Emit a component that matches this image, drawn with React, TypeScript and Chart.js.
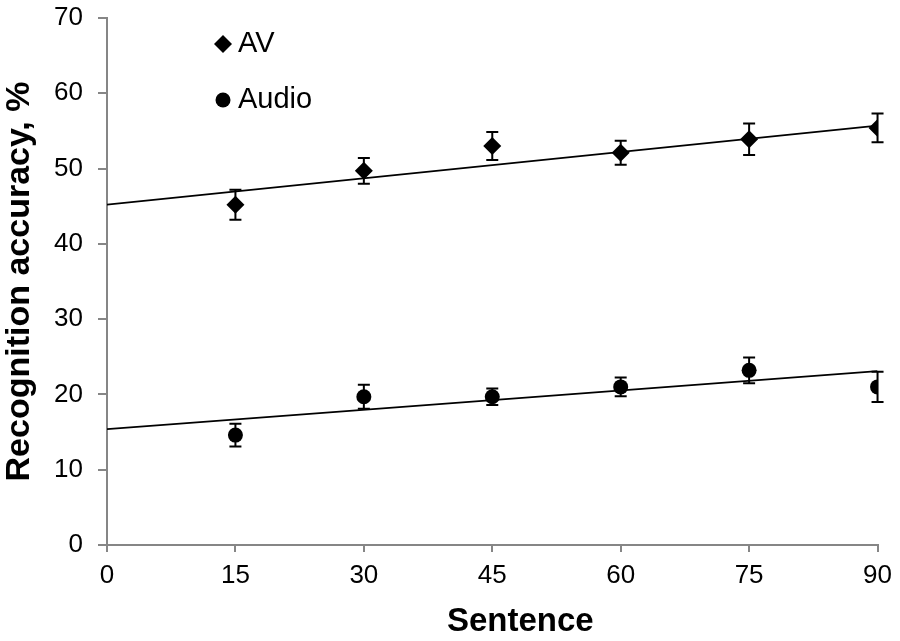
import { useEffect, useRef } from "react";
import { Chart, registerables } from "chart.js";

Chart.register(...registerables);

// sentence position (x) of each measured point
const sentences = [15, 30, 45, 60, 75, 90];

// recognition accuracy, %
const avValues = [45.2, 49.7, 53.0, 52.1, 53.9, 55.4];
const avErrors = [2.0, 1.7, 1.85, 1.6, 2.1, 1.9];
const audioValues = [14.6, 19.7, 19.7, 21.0, 23.2, 21.0];
const audioErrors = [1.5, 1.6, 1.1, 1.25, 1.7, 2.0];

// linear trend lines, read at x = 0 and x = 90
const trendX = [0, 90];
const avTrend = [45.2, 55.7];
const audioTrend = [15.4, 23.1];

const xTicks = [0, 15, 30, 45, 60, 75, 90];

const AXIS_GREY = "#868686";
const FONT = "'Liberation Sans', Arial, sans-serif";

const errorBarPlugin = {
  id: "errorBars",
  beforeDatasetsDraw(chart: any) {
    const { ctx } = chart;
    const x = chart.scales.x;
    const y = chart.scales.y;
    const sets = [
      { values: avValues, errors: avErrors },
      { values: audioValues, errors: audioErrors },
    ];
    ctx.save();
    ctx.strokeStyle = "#000";
    ctx.lineWidth = 2;
    sets.forEach(({ values, errors }) => {
      values.forEach((v, i) => {
        const px = x.getPixelForValue(sentences[i]);
        const top = y.getPixelForValue(v + errors[i]);
        const bot = y.getPixelForValue(v - errors[i]);
        ctx.beginPath();
        ctx.moveTo(px, top);
        ctx.lineTo(px, bot);
        ctx.moveTo(px - 6, top);
        ctx.lineTo(px + 6, top);
        ctx.moveTo(px - 6, bot);
        ctx.lineTo(px + 6, bot);
        ctx.stroke();
      });
    });
    ctx.restore();
  },
};

// legend inside the plot, plus the x title (sits a bit right of centre)
const annotationsPlugin = {
  id: "insideLegend",
  afterDraw(chart: any) {
    const { ctx, chartArea } = chart;
    const mx = chartArea.left + 116;
    const tx = chartArea.left + 131;
    ctx.save();
    ctx.fillStyle = "#000";
    const dy = chartArea.top + 26;
    ctx.beginPath();
    ctx.moveTo(mx - 9, dy);
    ctx.lineTo(mx, dy - 9);
    ctx.lineTo(mx + 9, dy);
    ctx.lineTo(mx, dy + 9);
    ctx.closePath();
    ctx.fill();
    const cy = chartArea.top + 82;
    ctx.beginPath();
    ctx.arc(mx, cy, 7.5, 0, Math.PI * 2);
    ctx.fill();
    ctx.font = `29px ${FONT}`;
    ctx.textBaseline = "middle";
    ctx.textAlign = "left";
    ctx.fillText("AV", tx, dy);
    ctx.fillText("Audio", tx, cy);

    ctx.font = `bold 33px ${FONT}`;
    ctx.textAlign = "center";
    const centre = (chartArea.left + chartArea.right) / 2 + 28;
    ctx.fillText("Sentence", centre, chartArea.bottom + 77);
    ctx.restore();
  },
};

export default function App() {
  const chartRef = useRef<HTMLCanvasElement>(null);

  useEffect(() => {
    if (!chartRef.current) return;

    const chart = new Chart(chartRef.current, {
      type: "scatter",
      data: {
        datasets: [
          {
            label: "AV trend",
            type: "line",
            data: trendX.map((x, i) => ({ x, y: avTrend[i] })),
            borderColor: "#000",
            borderWidth: 1.8,
            pointRadius: 0,
            order: 3,
          },
          {
            label: "Audio trend",
            type: "line",
            data: trendX.map((x, i) => ({ x, y: audioTrend[i] })),
            borderColor: "#000",
            borderWidth: 1.8,
            pointRadius: 0,
            order: 3,
          },
          {
            label: "AV",
            data: sentences.map((x, i) => ({ x, y: avValues[i] })),
            pointStyle: "rectRot",
            pointRadius: 9,
            backgroundColor: "#000",
            borderColor: "#000",
            borderWidth: 0,
            order: 1,
          },
          {
            label: "Audio",
            data: sentences.map((x, i) => ({ x, y: audioValues[i] })),
            pointStyle: "circle",
            pointRadius: 7.5,
            backgroundColor: "#000",
            borderColor: "#000",
            borderWidth: 0,
            order: 1,
          },
        ],
      },
      options: {
        responsive: false,
        animation: false,
        layout: { padding: { top: 18, right: 21, left: 0, bottom: 0 } },
        plugins: {
          legend: { display: false },
          tooltip: { enabled: false },
        },
        scales: {
          x: {
            type: "linear",
            min: 0,
            max: 90,
            afterBuildTicks: (scale: any) => {
              scale.ticks = xTicks.map((v) => ({ value: v }));
            },
            afterFit: (scale: any) => {
              scale.height = 96;
            },
            grid: {
              drawOnChartArea: false,
              tickLength: 7,
              color: AXIS_GREY,
              lineWidth: 2,
            },
            border: { color: AXIS_GREY, width: 2 },
            ticks: {
              color: "#000",
              padding: 8,
              maxRotation: 0,
              font: { family: FONT, size: 26 },
            },
          },
          y: {
            min: 0,
            max: 70,
            afterFit: (scale: any) => {
              scale.width = 107;
              scale.paddingTop = 0;
              scale.paddingBottom = 0;
            },
            grid: {
              drawOnChartArea: false,
              tickLength: 9,
              color: AXIS_GREY,
              lineWidth: 2,
            },
            border: { color: AXIS_GREY, width: 2 },
            ticks: {
              stepSize: 10,
              color: "#000",
              padding: 15,
              font: { family: FONT, size: 26 },
            },
            title: {
              display: true,
              text: "Recognition accuracy, %",
              color: "#000",
              padding: { top: 3, bottom: 0 },
              font: { family: FONT, size: 34, weight: "bold", lineHeight: 1 },
            },
          },
        },
      },
      plugins: [errorBarPlugin, annotationsPlugin],
    });

    return () => chart.destroy();
  }, []);

  return (
    <div
      style={{
        position: "fixed",
        top: 0,
        left: 0,
        width: 900,
        height: 641,
        background: "#fff",
      }}
    >
      <canvas ref={chartRef} width={900} height={641} />
    </div>
  );
}
